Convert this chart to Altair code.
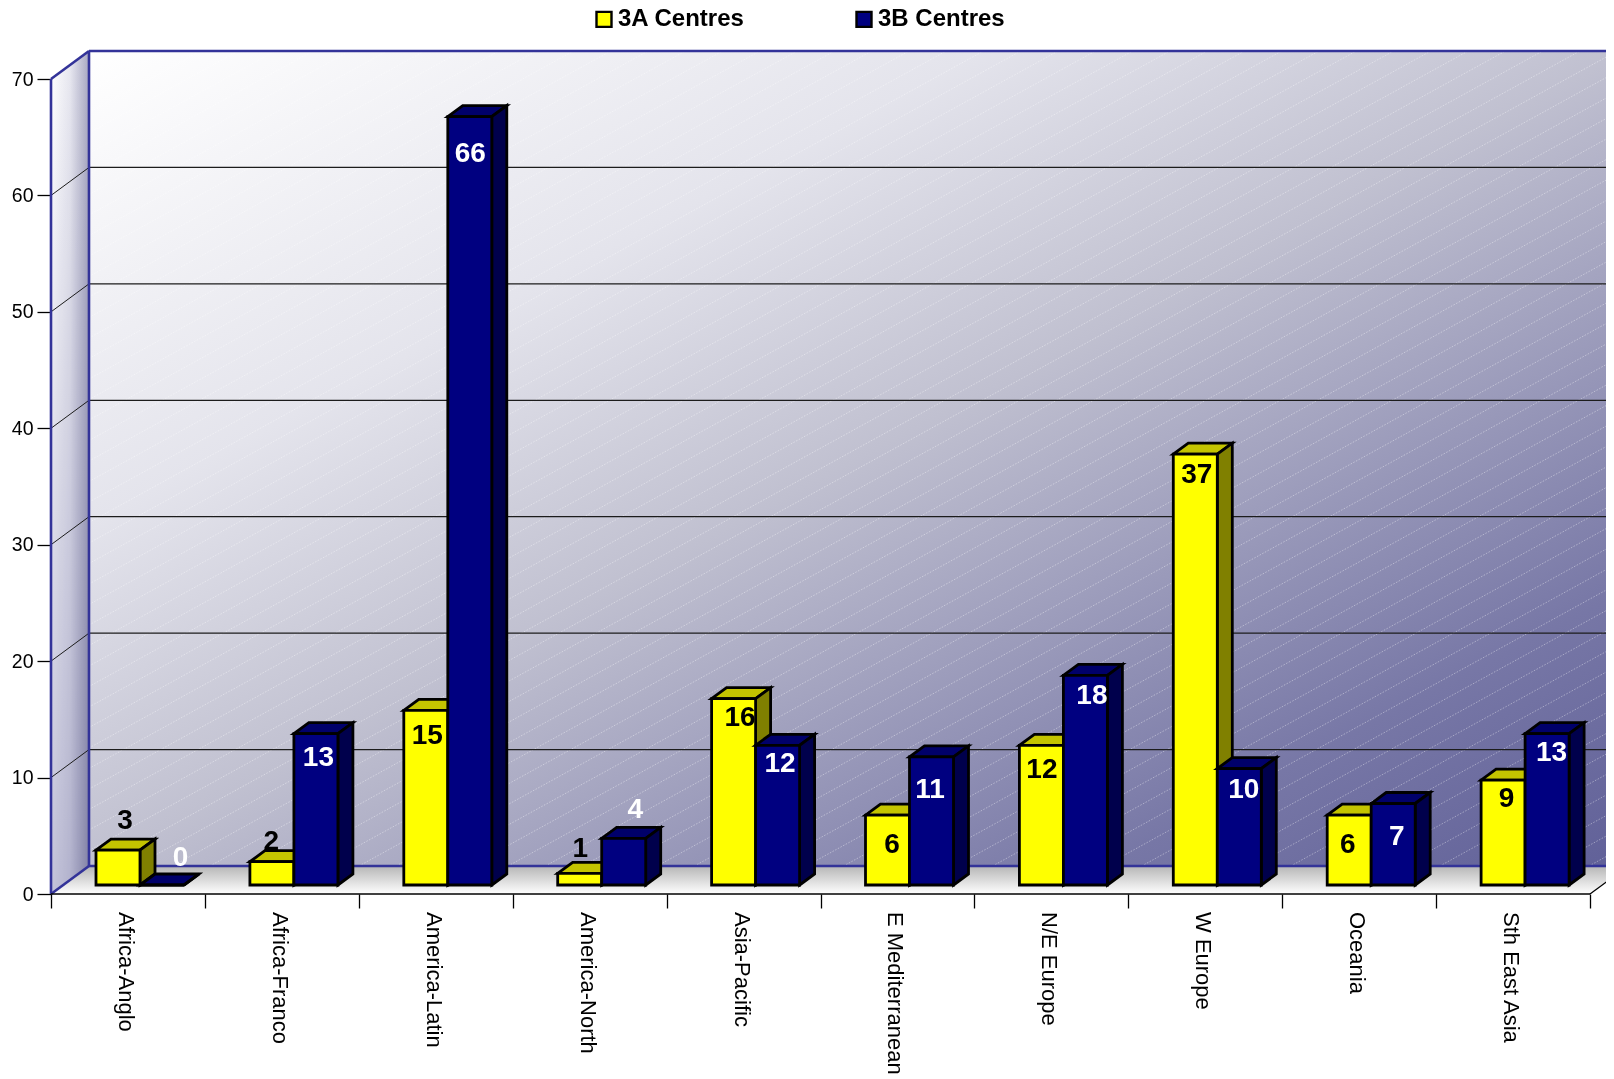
import altair as alt
import pandas as pd

categories = ["Africa-Anglo", "Africa-Franco", "America-Latin", "America-North", "Asia-Pacific",
              "E Mediterranean", "N/E Europe", "W Europe", "Oceania", "Sth East Asia"]
series_a = [3, 2, 15, 1, 16, 6, 12, 37, 6, 9]
series_b = [0, 13, 66, 4, 12, 11, 18, 10, 7, 13]
name_a = "3A Centres"
name_b = "3B Centres"
y_ticks = [0, 10, 20, 30, 40, 50, 60, 70]

# Value-label nudges relative to the centre of each bar's front top edge (px right, px down)
nudge_a = [(6.5, -31), (-1, -22), (1, 24), (0, -26), (6, 17), (4, 28), (0, 23), (1, 19), (-2, 28), (3, 16.5)]
nudge_b = [(18, -29), (2, 22), (0, 35), (11, -30), (2, 16.5), (-2, 31), (6, 18.5), (4, 19), (3, 31), (4, 17)]

FONT = "Liberation Sans"
XU = 153.9          # px per category
YU = 815 / 70       # px per value unit
PLOT_W, PLOT_H = 1555, 843
WX, WY = 38 / XU, 28 / YU      # wall depth
BX, BY = 15 / XU, 11 / YU      # bar depth
B_START, B_W, B_LIFT = 45 / XU, 44 / XU, 9 / YU
X_END = 10 + WX
Y_TOP = 70 + WY

xs = alt.Scale(domain=[0, PLOT_W / XU], nice=False, zero=False)
ys = alt.Scale(domain=[0, PLOT_H / YU], nice=False, zero=False)
y_axis = alt.Axis(values=y_ticks, domain=False, grid=False, tickSize=14, tickColor="black", tickWidth=1.3,
                  labelFont=FONT, labelFontSize=19.5, labelColor="black", labelPadding=4, title=None)
x_axis = alt.Axis(values=list(range(len(categories) + 1)), domain=False, grid=False, labels=False,
                  tickSize=14, tickColor="black", tickWidth=1.3, title=None)
def X(f): return alt.X(f + ":Q", scale=xs, axis=x_axis, title=None)
def Y(f): return alt.Y(f + ":Q", scale=ys, axis=y_axis, title=None)

def grad(stops, x2=1, y2=1):
    return alt.LinearGradient(gradient="linear", x1=0, y1=0, x2=x2, y2=y2,
                              stops=[alt.GradientStop(offset=o, color=c) for o, c in stops])

def segs(rows):
    return pd.DataFrame([{"id": i, "x": x, "y": y} for i, s in enumerate(rows) for x, y in s])

def seg_layer(rows, **mark):
    return alt.Chart(segs(rows)).mark_line(**mark).encode(x=X("x"), y=Y("y"), detail="id:N")

# back wall
wall = alt.Chart(pd.DataFrame([{"a": WX, "b": X_END, "c": WY, "d": Y_TOP}])).mark_rect(
    fill=grad([(0, "#ffffff"), (0.29, "#e4e4ec"), (0.5, "#c0c0d0"), (0.83, "#7777a6"), (1, "#606098")])
).encode(x=X("a"), x2=alt.X2("b"), y=Y("c"), y2=alt.Y2("d"))

# dotted diagonal texture of the back wall
SL, STEP = 0.55, 20.5
hatch_rows = []
W_PX, H_PX = X_END * XU - WX * XU, (Y_TOP - WY) * YU
c = 0.0
while c < H_PX + SL * W_PX:
    x0, y0 = (0.0, c) if c <= H_PX else ((c - H_PX) / SL, H_PX)
    x1 = min(c / SL, W_PX)
    y1 = c - SL * x1
    hatch_rows.append([(WX + x0 / XU, Y_TOP - y0 / YU), (WX + x1 / XU, Y_TOP - y1 / YU)])
    c += STEP
hatch = seg_layer(hatch_rows, color="#ffffff", strokeWidth=1, strokeDash=[1.5, 1.5], opacity=0.38)

grid_vals = [v for v in y_ticks if 0 < v < 70]
grid_back = seg_layer([[(WX, v + WY), (X_END, v + WY)] for v in grid_vals], color="#1c1c1c", strokeWidth=1.2)

# floor
floor_df = pd.DataFrame([{"y": 0, "a": 0, "b": 10}, {"y": WY, "a": WX, "b": X_END}])
floor = alt.Chart(floor_df).mark_area(
    orient="horizontal", fill=grad([(0, "#b6b6b6"), (1, "#ffffff")], x2=0, y2=1)
).encode(y=Y("y"), x=X("a"), x2=alt.X2("b"))

# side wall: vertical shade multiplied by horizontal shade
side_df = pd.DataFrame([{"x": 0, "a": 0, "b": 70}, {"x": WX, "a": WY, "b": Y_TOP}])
side1 = alt.Chart(side_df).mark_area(
    orient="vertical", fill=grad([(0, "#ffffff"), (1, "#c4c4da")], x2=0, y2=1)
).encode(x=X("x"), y=Y("a"), y2=alt.Y2("b"))
side2 = alt.Chart(side_df).mark_area(
    orient="vertical", blend="multiply", fill=grad([(0, "#ffffff"), (0.5, "#e8e8f0"), (1, "#a8a8c2")], x2=1, y2=0)
).encode(x=X("x"), y=Y("a"), y2=alt.Y2("b"))

grid_side = seg_layer([[(0, v), (WX, v + WY)] for v in grid_vals], color="#1c1c1c", strokeWidth=1)

edges = seg_layer([
    [(0, 0), (0, 70)], [(0, 70), (WX, Y_TOP)], [(WX, Y_TOP), (X_END, Y_TOP)],
    [(WX, Y_TOP), (WX, WY)], [(0, 0), (WX, WY)], [(WX, WY), (X_END, WY)],
], color="#333399", strokeWidth=2.6)

# front baseline
base = alt.Chart(pd.DataFrame([{"a": 0, "b": 10, "y": 0}])).mark_rule(color="black", strokeWidth=1.3).encode(
    x=X("a"), x2=alt.X2("b"), y=Y("y"))
right_edge = seg_layer([[(10, 0), (X_END, WY)]], color="black", strokeWidth=1.3)

# bars
def bar_frames(values, slot, name):
    tops, sides, fronts = [], [], []
    for i, v in enumerate(values):
        l = i + B_START + slot * B_W
        r = l + B_W
        lo, hi = B_LIFT, B_LIFT + v
        tops += [{"id": i, "y": hi, "a": l, "b": r}, {"id": i, "y": hi + BY, "a": l + BX, "b": r + BX}]
        sides += [{"id": i, "x": r, "a": lo, "b": hi}, {"id": i, "x": r + BX, "a": lo + BY, "b": hi + BY}]
        fronts.append({"a": l, "b": r, "c": lo, "d": hi, "s": name})
    return pd.DataFrame(tops), pd.DataFrame(sides), pd.DataFrame(fronts)

color_scale = alt.Scale(domain=[name_a, name_b], range=["#ffff00", "#000080"])
legend = alt.Legend(orient="none", legendX=541, legendY=-44, direction="horizontal", title=None, columns=2,
                    symbolType="square", symbolSize=225, symbolStrokeColor="black", symbolStrokeWidth=2.4,
                    symbolOpacity=1, labelFont=FONT, labelFontSize=24, labelFontWeight="bold", labelColor="black",
                    labelOffset=2, columnPadding=106, padding=0, labelLimit=300)

def bar_layers(values, slot, name, top_col, side_col):
    t, s, f = bar_frames(values, slot, name)
    sw = 2.8
    return [
        alt.Chart(t).mark_area(orient="horizontal", fill=top_col, stroke="black", strokeWidth=sw, strokeJoin="miter").encode(
            y=Y("y"), x=X("a"), x2=alt.X2("b"), detail="id:N"),
        alt.Chart(s).mark_area(orient="vertical", fill=side_col, stroke="black", strokeWidth=sw, strokeJoin="miter").encode(
            x=X("x"), y=Y("a"), y2=alt.Y2("b"), detail="id:N"),
        alt.Chart(f).mark_rect(stroke="black", strokeWidth=sw).encode(
            x=X("a"), x2=alt.X2("b"), y=Y("c"), y2=alt.Y2("d"),
            fill=alt.Fill("s:N", scale=color_scale, legend=legend)),
    ]

def label_layer(values, slot, nudges, col):
    rows = []
    for i, (v, (dx, dy)) in enumerate(zip(values, nudges)):
        rows.append({"x": i + B_START + (slot + 0.5) * B_W + dx / XU, "y": B_LIFT + v - dy / YU, "t": str(v)})
    return alt.Chart(pd.DataFrame(rows)).mark_text(
        font=FONT, fontSize=28, fontWeight="bold", color=col, align="center", baseline="middle", dx=0.5, dy=2
    ).encode(x=X("x"), y=Y("y"), text="t:N")

cat_df = pd.DataFrame([{"x": i + 0.5, "y": 0, "t": c} for i, c in enumerate(categories)])
cat_labels = alt.Chart(cat_df).mark_text(
    font=FONT, fontSize=22, color="black", angle=90, align="left", baseline="middle", dx=18, dy=2
).encode(x=X("x"), y=Y("y"), text="t:N")

layers = [wall, hatch, grid_back, floor, side1, side2, grid_side, edges, base, right_edge]
layers += bar_layers(series_a, 0, name_a, "#c4c400", "#808000")
layers += bar_layers(series_b, 1, name_b, "#00006a", "#00004c")
layers += [label_layer(series_a, 0, nudge_a, "black"), label_layer(series_b, 1, nudge_b, "white"), cat_labels]

chart = alt.layer(*layers).properties(
    width=PLOT_W, height=PLOT_H,
    autosize=alt.AutoSizeParams(type="none"),
    padding={"left": 43, "top": 43, "right": 0, "bottom": 184},
    background="white",
).configure_view(stroke=None)

chart.save("out.html", embed_options={"renderer": "svg", "actions": False})
